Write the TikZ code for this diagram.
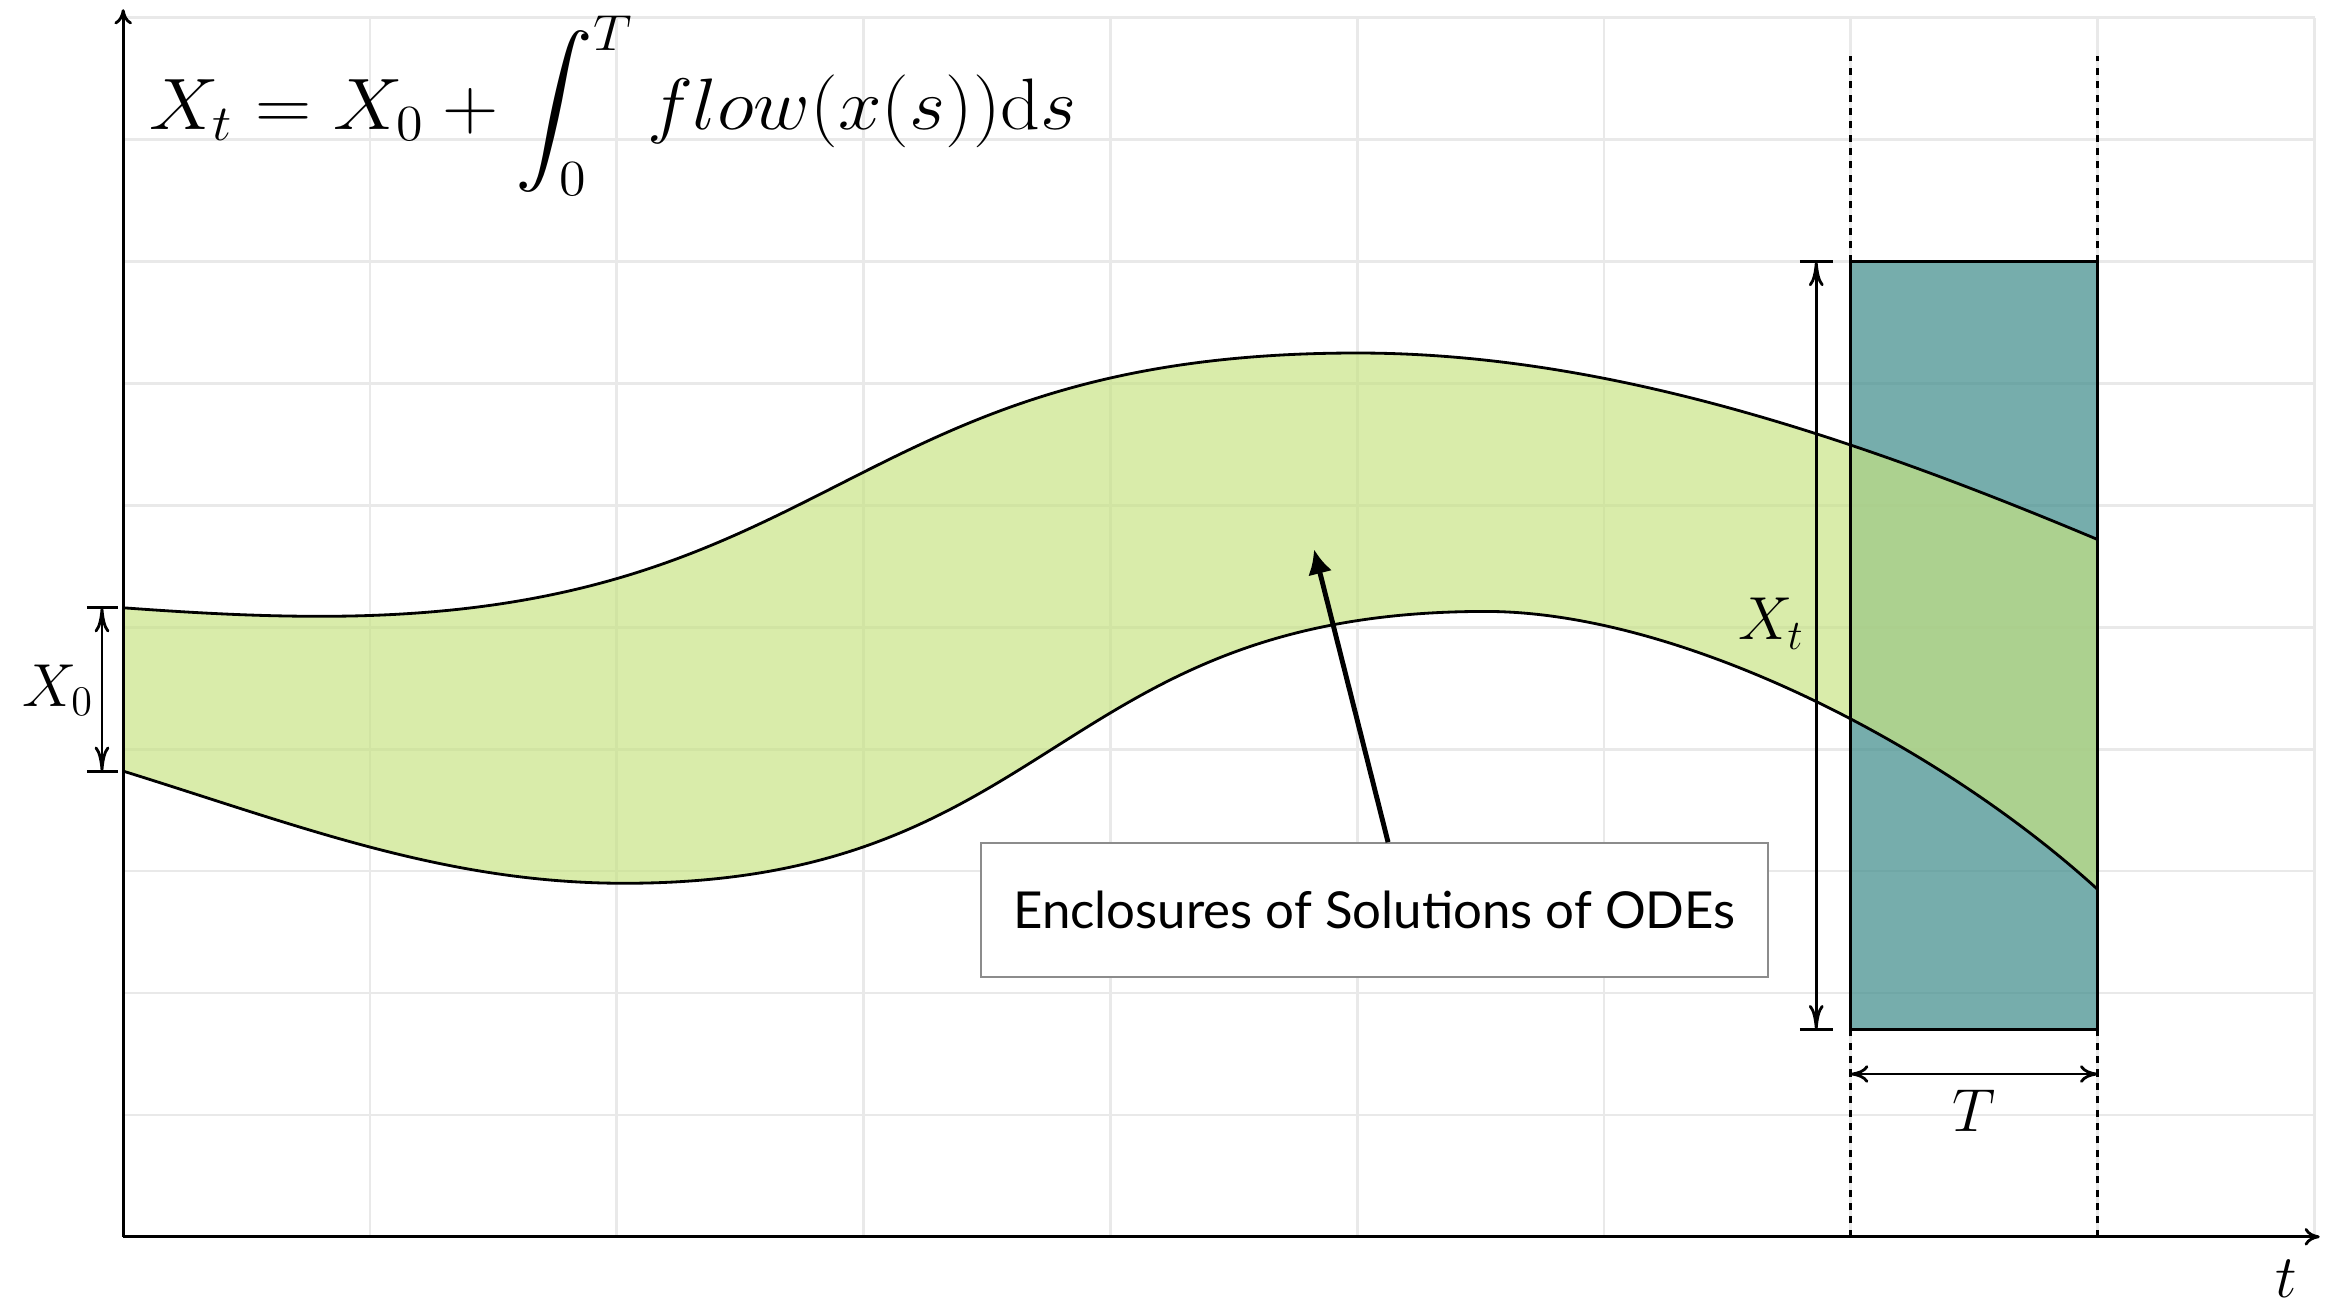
\documentclass[tikz,border=0pt]{standalone}
\usepackage{amsmath}
\usepackage{fontspec}
\newfontfamily\annfont{Lato}
\usetikzlibrary{arrows.meta}
\definecolor{bandgreen}{RGB}{199,227,130}
\definecolor{boxteal}{RGB}{72,146,144}
\definecolor{gridgray}{RGB}{233,233,233}
\tikzset{
  gridline/.style={draw=gridgray, line width=0.75pt},
  axisline/.style={line width=0.8pt, -{To[length=4.3pt,width=5pt]}},
  curveline/.style={line width=0.8pt},
  guideline/.style={line width=0.75pt, dash pattern=on 2pt off 1.8pt},
  vdim/.style={line width=0.8pt, {To[length=7pt,width=4.2pt]}-{To[length=7pt,width=4.2pt]}},
  hdim/.style={line width=0.8pt, {To[length=5pt,width=5pt]}-{To[length=5pt,width=5pt]}},
  tickbar/.style={line width=0.8pt},
  mathlabel/.style={inner sep=0pt, font=\LARGE},
  annbox/.style={draw=black!45, line width=0.5pt, fill=white, minimum width=7.87cm, minimum height=1.34cm, inner sep=0pt, font=\annfont\fontsize{14.5}{17}\selectfont},
  annarrow/.style={line width=1.4pt, -{Latex[length=7pt,width=7pt]}}
}
\begin{document}
\begin{tikzpicture}[x=1cm,y=1cm]
\useasboundingbox (0,0) rectangle (23.28,13.08);
\begin{scope}[shift={(1.232cm,0.712cm)}, x=2.468cm, y=1.219cm]
  % grid
  \foreach \gx in {0,...,8} {\draw[gridline] (\gx,0) -- (\gx,10);}
  \draw[gridline] (8.88,0) -- (8.88,10);
  \foreach \gy in {0,...,10} {\draw[gridline] (0,\gy) -- (8.88,\gy);}
  % box fill
  \fill[boxteal, fill opacity=0.75] (7,1.7) rectangle (8,8);
  % band fill
  \fill[bandgreen, fill opacity=0.68]
    (0,5.16) .. controls (0.27,5.12) and (0.53,5.09) .. (0.8,5.09)
    .. controls (2.9,5.09) and (2.9,7.25) .. (5,7.25)
    .. controls (6.0,7.25) and (7,6.57) .. (8,5.72)
    -- (8,2.85)
    .. controls (7.35,4.05) and (6.3,5.13) .. (5.52,5.13)
    .. controls (3.77,5.13) and (3.78,2.90) .. (2.03,2.90)
    .. controls (1.3,2.90) and (0.7,3.38) .. (0,3.82)
    -- cycle;
  % band outlines
  \draw[curveline] (0,5.16) .. controls (0.27,5.12) and (0.53,5.09) .. (0.8,5.09)
    .. controls (2.9,5.09) and (2.9,7.25) .. (5,7.25)
    .. controls (6.0,7.25) and (7,6.57) .. (8,5.72);
  \draw[curveline] (0,3.82) .. controls (0.7,3.38) and (1.3,2.90) .. (2.03,2.90)
    .. controls (3.78,2.90) and (3.77,5.13) .. (5.52,5.13)
    .. controls (6.3,5.13) and (7.35,4.05) .. (8,2.85);
  % guides
  \coordinate (gLb) at (7,0);
  \coordinate (gLt) at (7,9.69);
  \coordinate (gRb) at (8,0);
  \coordinate (gRt) at (8,9.69);
  \draw[guideline] (gLb) -- (gLt);
  \draw[guideline] (gRb) -- (gRt);
  % box outline
  \draw[line width=0.9pt] (7,1.7) rectangle (8,8);
  % axes
  \coordinate (O) at (0,0);
  \coordinate (xend) at (8.90,0);
  \coordinate (yend) at (0,10.07);
  \draw[axisline] (O) -- (xend);
  \draw[axisline] (O) -- (yend);
  \node[inner sep=0pt, font=\LARGE, anchor=base] (tlab) at (8.763,-0.50) {$t$};
  % formula
  \node[anchor=base west, inner sep=0pt, font=\huge, xscale=1.07, transform shape] (formula) at (0.1026,9.08)
    {$X_t = X_0 + \displaystyle\int_0^T flow(x(s))\mathrm{d}s$};
  % X0 dimension
  \coordinate (x0t) at (-0.086,5.16);
  \coordinate (x0b) at (-0.086,3.82);
  \draw[tickbar] (-0.147,5.16) -- (-0.021,5.16);
  \draw[tickbar] (-0.147,3.82) -- (-0.021,3.82);
  \draw[vdim] (x0b) -- (x0t);
  \node[mathlabel, anchor=base east] (x0lab) at (-0.116,4.35) {$X_0$};
  % Xt dimension
  \coordinate (xtt) at (6.86,8);
  \coordinate (xtb) at (6.86,1.7);
  \draw[tickbar] (6.794,8) -- (6.928,8);
  \draw[tickbar] (6.794,1.7) -- (6.928,1.7);
  \draw[vdim] (xtb) -- (xtt);
  \node[mathlabel, anchor=base east] (xtlab) at (6.814,4.896) {$X_t$};
  % T dimension
  \coordinate (tl) at (7,1.335);
  \coordinate (tr) at (8,1.335);
  \draw[hdim] (tl) -- (tr);
  \node[mathlabel, anchor=base] (Tlab) at (7.5,0.86) {$T$};
  % annotation
  \node[annbox] (ann) at (5.07,2.68) {Enclosures of Solutions of ODEs};
  \coordinate (anntip) at (4.825,5.64);
  \draw[annarrow] ([xshift=0.136cm]ann.north) -- (anntip);
\end{scope}
\end{tikzpicture}
\end{document}
